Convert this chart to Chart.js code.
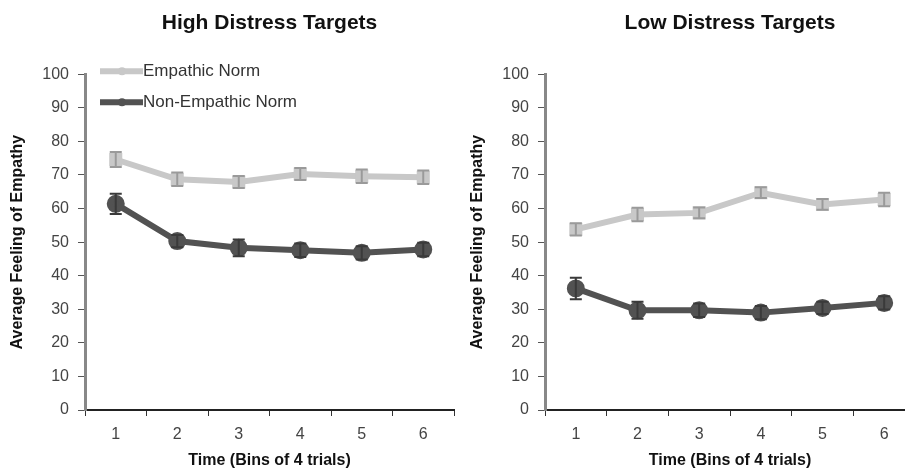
<!DOCTYPE html>
<html>
<head>
<meta charset="utf-8">
<script src="https://cdn.jsdelivr.net/npm/chart.js@4"></script>
<style>
html, body { margin: 0; padding: 0; background: #fff; width: 905px; height: 472px; overflow: hidden; position: relative; }
.panel { position: absolute; top: 0; height: 472px; }
</style>
</head>
<body>
<div class="panel" style="left:0;width:466px"><canvas id="highChart"></canvas></div>
<div class="panel" style="left:460px;width:467px"><canvas id="lowChart"></canvas></div>
<script>
// data
const bins = ["1", "2", "3", "4", "5", "6"];
const seriesNames = ["Empathic Norm", "Non-Empathic Norm"];
const yTicks = [0, 10, 20, 30, 40, 50, 60, 70, 80, 90, 100];

const highEmpathic = [74.6, 68.7, 67.9, 70.3, 69.6, 69.3];
const highEmpathicErr = [2.2, 2.0, 1.8, 1.8, 2.0, 2.0];
const highNonEmpathic = [61.4, 50.3, 48.3, 47.6, 46.8, 47.8];
const highNonEmpathicErr = [3.0, 1.8, 2.5, 2.0, 2.0, 2.0];

const lowEmpathic = [53.8, 58.2, 58.7, 64.7, 61.2, 62.7];
const lowEmpathicErr = [1.8, 2.0, 1.6, 1.6, 1.6, 2.0];
const lowNonEmpathic = [36.2, 29.7, 29.7, 29.0, 30.4, 31.9];
const lowNonEmpathicErr = [3.2, 2.5, 2.0, 2.0, 1.8, 2.0];

const lightGray = "#c8c8c8";
const darkGray = "#525252";
const fontFamily = "'Liberation Sans', Arial, sans-serif";

const errorBars = {
    id: "errorBars",
    afterDatasetsDraw(chart) {
        const ctx = chart.ctx;
        const y = chart.scales.y;
        chart.data.datasets.forEach((ds, i) => {
            const meta = chart.getDatasetMeta(i);
            ctx.save();
            ctx.strokeStyle = ds.errorColor;
            ctx.lineWidth = 2;
            meta.data.forEach((pt, j) => {
                const top = y.getPixelForValue(ds.data[j] + ds.errors[j]);
                const bot = y.getPixelForValue(ds.data[j] - ds.errors[j]);
                ctx.beginPath();
                ctx.moveTo(pt.x, top); ctx.lineTo(pt.x, bot);
                ctx.moveTo(pt.x - 6, top); ctx.lineTo(pt.x + 6, top);
                ctx.moveTo(pt.x - 6, bot); ctx.lineTo(pt.x + 6, bot);
                ctx.stroke();
            });
            ctx.restore();
        });
    }
};

// legend drawn inside the plot, like the original
const insideLegend = {
    id: "insideLegend",
    afterDraw(chart) {
        if (!chart.options.plugins.insideLegend.show) return;
        const ctx = chart.ctx;
        const a = chart.chartArea;
        chart.data.datasets.forEach((ds, i) => {
            const yy = a.top - 3 + i * 31;
            const x0 = a.left + 15;
            ctx.save();
            ctx.strokeStyle = ds.borderColor;
            ctx.lineWidth = 6;
            ctx.beginPath();
            ctx.moveTo(x0, yy); ctx.lineTo(x0 + 43, yy);
            ctx.stroke();
            ctx.fillStyle = ds.borderColor;
            ctx.beginPath();
            ctx.arc(x0 + 22, yy, 4, 0, Math.PI * 2);
            ctx.fill();
            ctx.fillStyle = "#333";
            ctx.font = "17px " + fontFamily;
            ctx.textBaseline = "middle";
            ctx.fillText(ds.label, x0 + 43, yy);
            ctx.restore();
        });
    }
};

function makeChart(id, title, empathic, empathicErr, nonEmpathic, nonEmpathicErr, showLegend) {
    new Chart(document.getElementById(id), {
        type: "line",
        data: {
            labels: bins,
            datasets: [
                {
                    label: seriesNames[0],
                    data: empathic,
                    errors: empathicErr,
                    errorColor: "#9a9a9a",
                    borderColor: lightGray,
                    backgroundColor: lightGray,
                    borderWidth: 6,
                    pointStyle: "rect",
                    pointRadius: 5,
                    tension: 0
                },
                {
                    label: seriesNames[1],
                    data: nonEmpathic,
                    errors: nonEmpathicErr,
                    errorColor: "#3a3a3a",
                    borderColor: darkGray,
                    backgroundColor: darkGray,
                    borderWidth: 6,
                    pointStyle: "circle",
                    pointRadius: 6,
                    tension: 0
                }
            ]
        },
        options: {
            responsive: true,
            maintainAspectRatio: false,
            animation: false,
            layout: { padding: { left: 0, right: 0, top: 0, bottom: 0 } },
            plugins: {
                legend: { display: false },
                tooltip: { enabled: false },
                insideLegend: { show: showLegend },
                title: {
                    display: true,
                    text: title,
                    fullSize: false,
                    color: "#111",
                    font: { family: fontFamily, size: 21, weight: "bold" },
                    padding: { top: 11, bottom: 38 }
                }
            },
            scales: {
                x: {
                    offset: true,
                    grid: { offset: true, drawOnChartArea: false, drawTicks: true, tickLength: 6, color: "#333" },
                    border: { color: "#222", width: 2 },
                    ticks: { color: "#444", padding: 9, font: { family: fontFamily, size: 16 } },
                    title: {
                        display: true,
                        text: "Time (Bins of 4 trials)",
                        color: "#111",
                        font: { family: fontFamily, size: 16, weight: "bold" },
                        padding: { top: 4, bottom: 2 }
                    },
                    afterFit(scale) { scale.height = 62; }
                },
                y: {
                    min: 0,
                    max: 100,
                    afterBuildTicks(scale) { scale.ticks = yTicks.map(v => ({ value: v })); },
                    grid: { drawOnChartArea: false, drawTicks: true, tickLength: 7, color: "#555" },
                    border: { color: "#888", width: 3 },
                    ticks: { color: "#444", padding: 9, font: { family: fontFamily, size: 16 } },
                    title: {
                        display: true,
                        text: "Average Feeling of Empathy",
                        color: "#111",
                        font: { family: fontFamily, size: 16, weight: "bold" },
                        padding: { top: 8, bottom: 4 }
                    },
                    afterFit(scale) { scale.width = 85; }
                }
            }
        },
        plugins: [errorBars, insideLegend]
    });
}

makeChart("highChart", "High Distress Targets", highEmpathic, highEmpathicErr, highNonEmpathic, highNonEmpathicErr, true);
makeChart("lowChart", "Low Distress Targets", lowEmpathic, lowEmpathicErr, lowNonEmpathic, lowNonEmpathicErr, false);
</script>
</body>
</html>
